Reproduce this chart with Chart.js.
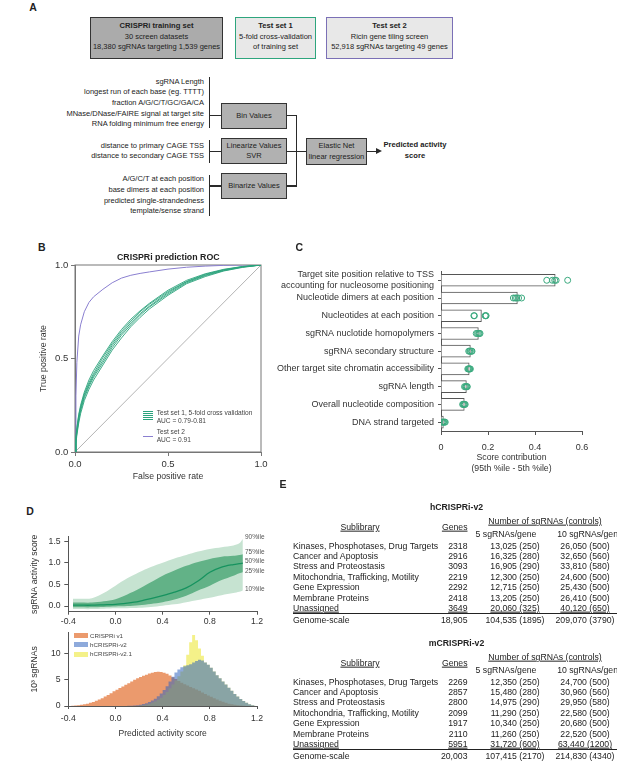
<!DOCTYPE html>
<html>
<head>
<meta charset="utf-8">
<script src="https://cdn.jsdelivr.net/npm/chart.js@4.4.1/dist/chart.umd.min.js"></script>
<style>
  body { margin: 0; background: #fff; }
  #fig { position: relative; width: 617px; height: 762px; overflow: hidden;
         font-family: 'Liberation Sans', Arial, sans-serif; color: #222; }
  #fig canvas { position: absolute; }
</style>
</head>
<body>
<div id="fig">
  <canvas id="chartB" width="245" height="230" style="left:28px;top:255px"></canvas>
  <canvas id="chartC" width="330" height="215" style="left:272px;top:262px"></canvas>
  <canvas id="chartD1" width="260" height="102" style="left:22px;top:528px"></canvas>
  <canvas id="chartD2" width="260" height="116" style="left:22px;top:624px"></canvas>
</div>
<script>
// ==========================================
// Datos del panel B - curvas ROC
// ==========================================
const rocFpr   = [0, 0.005, 0.01, 0.02, 0.03, 0.05, 0.075, 0.1, 0.15, 0.2, 0.25, 0.3, 0.35, 0.4, 0.5, 0.6, 0.7, 0.8, 0.9, 1];
const fold1Tpr = [0, 0.08, 0.13, 0.20, 0.25, 0.32, 0.385, 0.435, 0.515, 0.59, 0.655, 0.71, 0.755, 0.795, 0.865, 0.918, 0.953, 0.977, 0.992, 1];
const fold2Tpr = [0, 0.06, 0.11, 0.18, 0.23, 0.30, 0.36, 0.41, 0.49, 0.57, 0.635, 0.69, 0.74, 0.78, 0.852, 0.91, 0.946, 0.973, 0.99, 1];
const fold3Tpr = [0, 0.045, 0.09, 0.155, 0.205, 0.275, 0.335, 0.385, 0.465, 0.545, 0.61, 0.67, 0.72, 0.765, 0.838, 0.9, 0.938, 0.968, 0.987, 1];
const fold4Tpr = [0, 0.07, 0.125, 0.195, 0.24, 0.31, 0.37, 0.42, 0.505, 0.58, 0.645, 0.70, 0.75, 0.79, 0.858, 0.912, 0.95, 0.975, 0.991, 1];
const fold5Tpr = [0, 0.055, 0.10, 0.17, 0.22, 0.29, 0.35, 0.40, 0.478, 0.558, 0.625, 0.68, 0.732, 0.775, 0.845, 0.905, 0.943, 0.97, 0.989, 1];
const set2Tpr  = [0, 0.30, 0.48, 0.62, 0.68, 0.75, 0.80, 0.83, 0.87, 0.905, 0.93, 0.945, 0.955, 0.963, 0.978, 0.988, 0.994, 0.998, 1, 1];

// Datos del panel C - contribución de cada grupo de variables
const featureLabels = [
  ['Target site position relative to TSS', 'accounting for nucleosome positioning'],
  'Nucleotide dimers at each position',
  'Nucleotides at each position',
  'sgRNA nuclotide homopolymers',
  'sgRNA secondary structure',
  'Other target site chromatin accessibility',
  'sgRNA length',
  'Overall nucleotide composition',
  'DNA strand targeted'
];
const contribution = [0.486, 0.325, 0.172, 0.159, 0.125, 0.12, 0.108, 0.099, 0.01];
const foldContrib = [
  [0.45, 0.474, 0.484, 0.49, 0.539],
  [0.308, 0.316, 0.322, 0.33, 0.343],
  [0.14, 0.142, 0.188, 0.19, 0.192],
  [0.15, 0.155, 0.16, 0.163, 0.166],
  [0.118, 0.122, 0.125, 0.13, 0.132],
  [0.114, 0.117, 0.12, 0.122, 0.125],
  [0.1, 0.104, 0.107, 0.11, 0.112],
  [0.092, 0.095, 0.098, 0.1, 0.103],
  [0.004, 0.008, 0.011, 0.015, 0.018]
];

// Datos del panel D (arriba) - percentiles de actividad
const scoreX = [-0.36, -0.3, -0.2, -0.1, 0.0, 0.1, 0.2, 0.3, 0.4, 0.5, 0.6, 0.7, 0.8, 0.9, 1.0, 1.05, 1.08];
const pct90  = [0.17, 0.17, 0.18, 0.30, 0.47, 0.64, 0.78, 0.90, 1.00, 1.10, 1.18, 1.26, 1.32, 1.36, 1.40, 1.45, 1.55];
const pct75  = [0.08, 0.08, 0.08, 0.11, 0.16, 0.27, 0.40, 0.55, 0.70, 0.82, 0.93, 1.02, 1.09, 1.14, 1.16, 1.18, 1.20];
const pct50  = [0.02, 0.02, 0.02, 0.03, 0.04, 0.07, 0.11, 0.17, 0.24, 0.32, 0.42, 0.58, 0.78, 0.90, 0.96, 0.98, 0.99];
const pct25  = [-0.03, -0.03, -0.03, -0.02, -0.01, 0.0, 0.02, 0.05, 0.09, 0.15, 0.24, 0.36, 0.47, 0.60, 0.70, 0.76, 0.78];
const pct10  = [-0.07, -0.07, -0.07, -0.06, -0.05, -0.05, -0.04, -0.02, 0.01, 0.04, 0.09, 0.14, 0.19, 0.25, 0.30, 0.33, 0.36];
const pctNames = ['90%ile', '75%ile', '50%ile', '25%ile', '10%ile'];

// Datos del panel D (abajo) - histogramas (miles de sgRNAs por bin de 0.025)
const histX = [-0.3875, -0.3625, -0.3375, -0.3125, -0.2875, -0.2625, -0.2375, -0.2125, -0.1875, -0.1625,
  -0.1375, -0.1125, -0.0875, -0.0625, -0.0375, -0.0125, 0.0125, 0.0375, 0.0625, 0.0875,
  0.1125, 0.1375, 0.1625, 0.1875, 0.2125, 0.2375, 0.2625, 0.2875, 0.3125, 0.3375,
  0.3625, 0.3875, 0.4125, 0.4375, 0.4625, 0.4875, 0.5125, 0.5375, 0.5625, 0.5875,
  0.6125, 0.6375, 0.6625, 0.6875, 0.7125, 0.7375, 0.7625, 0.7875, 0.8125, 0.8375,
  0.8625, 0.8875, 0.9125, 0.9375, 0.9625, 0.9875, 1.0125, 1.0375, 1.0625, 1.0875,
  1.1125, 1.1375, 1.1625, 1.1875];
const v1Counts = [0.02, 0.05, 0.09, 0.15, 0.22, 0.32, 0.45, 0.6, 0.78, 1.0,
  1.25, 1.5, 1.8, 2.1, 2.45, 2.8, 3.1, 3.45, 3.75, 4.05,
  4.35, 4.7, 5.0, 5.3, 5.55, 5.8, 6.0, 6.2, 6.35, 6.5,
  6.55, 6.5, 6.35, 6.15, 5.85, 5.5, 5.15, 4.8, 4.45, 4.15,
  3.9, 3.65, 3.4, 3.15, 2.9, 2.6, 2.3, 2.0, 1.75, 1.5,
  1.25, 1.0, 0.8, 0.6, 0.45, 0.32, 0.22, 0.14, 0.08, 0.04,
  0.02, 0, 0, 0];
const v2Counts = [0, 0, 0, 0, 0, 0, 0, 0, 0, 0,
  0, 0, 0, 0, 0, 0, 0, 0, 0, 0,
  0.03, 0.06, 0.1, 0.16, 0.25, 0.38, 0.55, 0.78, 1.05, 1.4,
  1.85, 2.4, 3.05, 3.8, 4.7, 5.6, 6.4, 7.0, 7.4, 7.6,
  7.8, 8.0, 8.3, 8.6, 8.85, 8.7, 8.3, 7.9, 7.3, 6.6,
  5.9, 5.3, 4.7, 4.1, 3.5, 2.9, 2.3, 1.8, 1.35, 0.95,
  0.6, 0.32, 0.12, 0.03];
const v21Counts = [0, 0, 0, 0, 0, 0, 0, 0, 0, 0,
  0, 0, 0, 0, 0, 0, 0, 0, 0, 0,
  0, 0, 0, 0, 0.1, 0.15, 0.25, 0.4, 0.6, 0.85,
  1.2, 1.6, 2.1, 2.7, 3.4, 4.1, 4.9, 5.7, 6.6, 7.8,
  9.8, 12.2, 13.6, 12.6, 11.0, 9.6, 8.3, 7.9, 7.3, 6.6,
  5.9, 5.3, 4.7, 4.1, 3.5, 2.9, 2.3, 1.8, 1.35, 0.95,
  0.6, 0.32, 0.12, 0.03];
const histNames = ['CRISPRi v1', 'hCRISPRi-v2', 'hCRISPRi-v2.1'];

// Datos del panel E - tablas de sublibrerías
const sublibraries = ['Kinases, Phosphotases, Drug Targets', 'Cancer and Apoptosis', 'Stress and Proteostasis',
  'Mitochondria, Trafficking, Motility', 'Gene Expression', 'Membrane Proteins', 'Unassigned'];
const hGenes = [2318, 2916, 3093, 2219, 2292, 2418, 3649];
const h5 = ['13,025 (250)', '16,325 (280)', '16,905 (290)', '12,300 (250)', '12,715 (250)', '13,205 (250)', '20,060 (325)'];
const h10 = ['26,050 (500)', '32,650 (560)', '33,810 (580)', '24,600 (500)', '25,430 (500)', '26,410 (500)', '40,120 (650)'];
const hTotal = ['18,905', '104,535 (1895)', '209,070 (3790)'];
const mGenes = [2269, 2857, 2800, 2099, 1917, 2110, 5951];
const m5 = ['12,350 (250)', '15,480 (280)', '14,975 (290)', '11,290 (250)', '10,340 (250)', '11,260 (250)', '31,720 (600)'];
const m10 = ['24,700 (500)', '30,960 (560)', '29,950 (580)', '22,580 (500)', '20,680 (500)', '22,520 (500)', '63,440 (1200)'];
const mTotal = ['20,003', '107,415 (2170)', '214,830 (4340)'];

// ==========================================
// Utilidades de maquetación (texto y cajas HTML)
// ==========================================
const fig = document.getElementById('fig');

function mk(css, content) {
  const e = document.createElement('div');
  e.style.cssText = css;
  if (content != null) e.textContent = content;
  fig.appendChild(e);
  return e;
}
// texto centrado verticalmente en y; align: l / c / r
function text(s, x, y, size, align, extra) {
  const tx = align === 'c' ? '-50%' : align === 'r' ? '-100%' : '0';
  return mk(`position:absolute;left:${x}px;top:${y}px;font-size:${size}px;line-height:1;white-space:nowrap;` +
    `transform:translate(${tx},-50%);${extra || ''}`, s);
}
function rect(x, y, w, h, css) {
  return mk(`position:absolute;left:${x}px;top:${y}px;width:${w}px;height:${h}px;box-sizing:border-box;${css}`);
}
const BOLD = 'font-weight:bold';
const LINE = 'background:#2a2a2a';

// --- PANEL A: diagrama ---
text('A', 33, 7, 10.5, 'c', BOLD);
rect(90, 17, 133, 42, 'background:#ababab;border:1.5px solid #333');
text('CRISPRi training set', 156.5, 26, 7.6, 'c', BOLD);
text('30 screen datasets', 156.5, 36.7, 7.5, 'c');
text('18,380 sgRNAs targeting 1,539 genes', 156.5, 47.3, 7.5, 'c');
rect(235, 17, 81, 42, 'background:#e8e8e8;border:1.5px solid #2ea57d');
text('Test set 1', 275.5, 26, 7.6, 'c', BOLD);
text('5-fold cross-validation', 275.5, 36.7, 7.5, 'c');
text('of training set', 275.5, 47.3, 7.5, 'c');
rect(326, 17, 127, 42, 'background:#e8e8e8;border:1.5px solid #7b70b6');
text('Test set 2', 389.5, 26, 7.6, 'c', BOLD);
text('Ricin gene tiling screen', 389.5, 36.7, 7.5, 'c');
text('52,918 sgRNAs targeting 49 genes', 389.5, 47.3, 7.5, 'c');

const featGroups = [
  { lines: ['sgRNA Length', 'longest run of each base (eg. TTTT)', 'fraction A/G/C/T/GC/GA/CA',
            'MNase/DNase/FAIRE signal at target site', 'RNA folding minimum free energy'], y0: 81.7, top: 76.5, bottom: 128, link: 114.5 },
  { lines: ['distance to primary CAGE TSS', 'distance to secondary CAGE TSS'], y0: 145.7, top: 140, bottom: 163, link: 150.5 },
  { lines: ['A/G/C/T at each position', 'base dimers at each position', 'predicted single-strandedness',
            'template/sense strand'], y0: 179.2, top: 175, bottom: 215.5, link: 185 }
];
featGroups.forEach(g => {
  g.lines.forEach((s, i) => text(s, 204, g.y0 + i * 10.65, 7.5, 'r'));
  rect(208.5, g.top, 1.5, g.bottom - g.top, LINE);
  rect(210, g.link, 11, 1.5, LINE);
});
rect(221, 102.5, 66, 26, 'background:#b1b1b1;border:1.5px solid #333');
text('Bin Values', 254, 115.5, 7.5, 'c');
rect(221, 137.5, 66, 26.5, 'background:#b1b1b1;border:1.5px solid #333');
text('Linearize Values', 254, 145.5, 7.5, 'c');
text('SVR', 254, 156.3, 7.5, 'c');
rect(221, 172.5, 66, 26, 'background:#b1b1b1;border:1.5px solid #333');
text('Binarize Values', 254, 185.5, 7.5, 'c');
rect(306, 138, 61, 26.5, 'background:#b1b1b1;border:1.5px solid #333');
text('Elastic Net', 336.5, 146, 7.5, 'c');
text('linear regression', 336.5, 156.5, 7.5, 'c');
rect(287, 114.5, 9.5, 1.5, LINE);
rect(295.5, 114.5, 1.5, 72, LINE);
rect(287, 185, 9.5, 1.5, LINE);
rect(287, 150.5, 19, 1.5, LINE);
rect(367, 150.5, 10, 1.5, LINE);
mk('position:absolute;left:376px;top:148.25px;width:0;height:0;border-left:6px solid #2a2a2a;border-top:3px solid transparent;border-bottom:3px solid transparent');
text('Predicted activity', 415, 145, 7.6, 'c', BOLD);
text('score', 415, 156, 7.6, 'c', BOLD);

// --- letras y títulos ---
text('B', 41.7, 246.7, 10.5, 'c', BOLD);
text('CRISPRi prediction ROC', 168.3, 256.7, 8.8, 'c', BOLD);
text('C', 299.3, 246.7, 10.5, 'c', BOLD);
text('D', 30, 511, 10.5, 'c', BOLD);
text('E', 283, 484, 10.5, 'c', BOLD);

// --- leyenda panel B ---
for (let k = 0; k < 5; k++) rect(143, 410.5 + k * 2.2, 10, 1, 'background:#2aa37c');
text('Test set 1, 5-fold cross validation', 156.7, 412.7, 6.6, 'l', 'color:#444');
text('AUC = 0.79-0.81', 156.7, 420.7, 6.6, 'l', 'color:#444');
rect(143, 436.2, 10, 1, 'background:#8a7fd0');
text('Test set 2', 156.7, 432.3, 6.6, 'l', 'color:#444');
text('AUC = 0.91', 156.7, 440, 6.6, 'l', 'color:#444');

// --- etiquetas de percentiles panel D ---
[536.7, 551.7, 561.3, 570.7, 589].forEach((y, i) => text(pctNames[i], 245, y, 6.5, 'l', 'color:#555'));

// --- leyenda histograma panel D ---
const histSwatch = ['rgb(235,154,109)', 'rgb(142,170,219)', 'rgb(244,241,137)'];
[635.7, 644.9, 654.3].forEach((y, i) => {
  rect(74, y - 2.5, 14, 5, 'background:' + histSwatch[i]);
  text(histNames[i], 90, y, 6.2, 'l', 'color:#444');
});

// --- PANEL E: tablas ---
function table(title, y0, genes, n5, n10, totals) {
  const fs = 8.7;
  text(title, 456.5, y0, fs, 'c', BOLD);
  text('Number of sgRNAs (controls)', 545, y0 + 14, fs, 'c', 'text-decoration:underline');
  text('Sublibrary', 360, y0 + 20, fs, 'c', 'text-decoration:underline');
  text('Genes', 467.5, y0 + 20, fs, 'r', 'text-decoration:underline');
  text('5 sgRNAs/gene', 506, y0 + 26.5, fs, 'c');
  text('10 sgRNAs/gene', 590, y0 + 26.5, fs, 'c');
  sublibraries.forEach((name, i) => {
    const y = y0 + 38.5 + i * 10.4;
    const u = i === sublibraries.length - 1 ? 'text-decoration:underline' : '';
    text(name, 293, y, fs, 'l', u);
    text(String(genes[i]), 467.5, y, fs, 'r', u);
    text(n5[i], 515, y, fs, 'c', u);
    text(n10[i], 585, y, fs, 'c', u);
  });
  rect(293, y0 + 106, 324, 1.3, 'background:#222');
  const yt = y0 + 113;
  text('Genome-scale', 293, yt, fs, 'l');
  text(totals[0], 467.5, yt, fs, 'r');
  text(totals[1], 515, yt, fs, 'c');
  text(totals[2], 585, yt, fs, 'c');
}
table('hCRISPRi-v2', 507, hGenes, h5, h10, hTotal);
table('mCRISPRi-v2', 643, mGenes, m5, m10, mTotal);

// ==========================================
// GRÁFICOS (CHART.JS)
// ==========================================
Chart.defaults.font.family = "'Liberation Sans', Arial, sans-serif";
Chart.defaults.color = '#333';
Chart.defaults.animation = false;
Chart.defaults.responsive = false;
Chart.defaults.plugins.legend.display = false;
Chart.defaults.plugins.tooltip.enabled = false;

const toPts = (xs, ys) => xs.map((x, i) => ({ x, y: ys[i] }));
const fixW = w => s => { s.width = w; };
const fixH = h => s => { s.height = h; };
const CLEAR = 'rgba(0,0,0,0)';

// marco completo del panel B
const boxFrame = {
  id: 'boxFrame',
  beforeDatasetsDraw(chart) {
    const { ctx, chartArea: a } = chart;
    ctx.save();
    ctx.strokeStyle = '#777';
    ctx.lineWidth = 1;
    ctx.strokeRect(a.left, a.top, a.right - a.left, a.bottom - a.top);
    ctx.restore();
  }
};

// --- B: ROC ---
const foldSets = [fold1Tpr, fold2Tpr, fold3Tpr, fold4Tpr, fold5Tpr];
new Chart(document.getElementById('chartB'), {
  type: 'line',
  data: {
    datasets: [
      ...foldSets.map(t => ({ data: toPts(rocFpr, t), borderColor: '#2aa37c', borderWidth: 0.9, pointRadius: 0 })),
      { data: toPts(rocFpr, set2Tpr), borderColor: '#8a7fd0', borderWidth: 1, pointRadius: 0 },
      { data: [{ x: 0, y: 0 }, { x: 1, y: 1 }], borderColor: '#b4b4b4', borderWidth: 1, pointRadius: 0 }
    ]
  },
  options: {
    layout: { padding: { top: 10, right: 12, left: 0, bottom: 0 } },
    scales: {
      x: {
        type: 'linear', min: 0, max: 1, afterFit: fixH(33),
        ticks: { stepSize: 0.5, callback: v => v.toFixed(1), font: { size: 9.5 }, color: '#333', padding: 2.4 },
        grid: { drawOnChartArea: false, tickLength: 4, color: '#777' }, border: { color: '#777' },
        title: { display: true, text: 'False positive rate', font: { size: 8.7 }, color: '#333', padding: { top: 0, bottom: 3.1 } }
      },
      y: {
        type: 'linear', min: 0, max: 1, afterFit: fixW(47),
        ticks: { stepSize: 0.5, callback: v => v.toFixed(1), font: { size: 9.5 }, color: '#333', padding: 2.7 },
        grid: { drawOnChartArea: false, tickLength: 4, color: '#777' }, border: { color: '#777' },
        title: { display: true, text: 'True positive rate', font: { size: 8.7 }, color: '#333', padding: { top: 10.1, bottom: 0 } }
      }
    }
  },
  plugins: [boxFrame]
});

// --- C: contribución (barras + puntos por fold, sobre el mismo eje de filas) ---
const rowIdx = featureLabels.map((_, i) => i);
const barPts = contribution.map((v, i) => ({ x: v, y: rowIdx[i] }));
const foldPts = foldContrib.flatMap((vals, i) => vals.map(v => ({ x: v, y: rowIdx[i] })));
new Chart(document.getElementById('chartC'), {
  type: 'bar',
  data: {
    datasets: [
      { type: 'scatter', data: foldPts, borderColor: '#3aa97e', backgroundColor: CLEAR,
        pointRadius: 3, borderWidth: 1, order: 0 },
      { type: 'bar', data: barPts, backgroundColor: '#fff', borderColor: '#555', borderWidth: 1,
        barThickness: 12, order: 1 }
    ]
  },
  options: {
    indexAxis: 'y',
    layout: { padding: { top: 9, right: 20, left: 0, bottom: 0 } },
    scales: {
      x: {
        type: 'linear', min: 0, max: 0.6, offset: false, afterFit: fixH(46),
        ticks: { stepSize: 0.2, callback: v => v === 0 ? '0' : v.toFixed(1), font: { size: 9 }, color: '#333', padding: 7 },
        grid: { drawOnChartArea: false, tickLength: 4, color: '#555' }, border: { color: '#555' },
        title: { display: true, text: ['Score contribution', '(95th %ile - 5th %ile)'], font: { size: 8.7 }, color: '#333',
                 padding: { top: 0, bottom: 3.3 } }
      },
      y: {
        type: 'linear', min: -0.5, max: 8.5, reverse: true, offset: false, afterFit: fixW(169),
        afterBuildTicks: s => { s.ticks = rowIdx.map(v => ({ value: v })); },
        ticks: { autoSkip: false, callback: v => featureLabels[v], font: { size: 9 }, color: '#333', padding: 4 },
        grid: { offset: false, drawOnChartArea: false, tickLength: 3, color: '#555' }, border: { color: '#555' }
      }
    }
  }
});

// --- D arriba: bandas de percentiles ---
new Chart(document.getElementById('chartD1'), {
  type: 'line',
  data: {
    datasets: [
      { data: toPts(scoreX, pct10), borderColor: CLEAR, pointRadius: 0, fill: false, tension: 0.3, order: 5 },
      { data: toPts(scoreX, pct90), borderColor: CLEAR, pointRadius: 0, fill: 0, backgroundColor: '#c6e3d1', tension: 0.3, order: 5 },
      { data: toPts(scoreX, pct25), borderColor: CLEAR, pointRadius: 0, fill: false, tension: 0.3, order: 3 },
      { data: toPts(scoreX, pct75), borderColor: CLEAR, pointRadius: 0, fill: 2, backgroundColor: '#62b287', tension: 0.3, order: 3 },
      { data: toPts(scoreX, pct50), borderColor: '#16935f', borderWidth: 1.3, pointRadius: 0, fill: false, tension: 0.3, order: 0 }
    ]
  },
  options: {
    layout: { padding: { top: 5.8, right: 25, left: 0, bottom: 0 } },
    scales: {
      x: {
        type: 'linear', min: -0.4, max: 1.2, afterFit: fixH(18.3),
        ticks: { stepSize: 0.4, callback: v => v.toFixed(1), font: { size: 8.7 }, color: '#333', padding: 2.1 },
        grid: { drawOnChartArea: false, tickLength: 3, color: '#555' }, border: { color: '#555' }
      },
      y: {
        type: 'linear', min: -0.13, max: 1.6, afterFit: fixW(46.3),
        afterBuildTicks: s => { s.ticks = [0, 0.5, 1, 1.5].map(v => ({ value: v })); },
        ticks: { callback: v => v.toFixed(1), font: { size: 8.7 }, color: '#333', padding: 3.6 },
        grid: { drawOnChartArea: false, tickLength: 4, color: '#555' }, border: { color: '#555' },
        title: { display: true, text: 'sgRNA activity score', font: { size: 8.6 }, color: '#333', padding: { top: 7.8, bottom: 0 } }
      }
    }
  }
});

// --- D abajo: histogramas ---
new Chart(document.getElementById('chartD2'), {
  type: 'line',
  data: {
    datasets: [
      { label: histNames[0], data: toPts(histX, v1Counts), stepped: 'middle', fill: 'origin',
        backgroundColor: 'rgba(228,120,60,0.75)', borderColor: CLEAR, pointRadius: 0, order: 3 },
      { label: histNames[2], data: toPts(histX, v21Counts), stepped: 'middle', fill: 'origin',
        backgroundColor: 'rgba(235,230,40,0.55)', borderColor: CLEAR, pointRadius: 0, order: 2 },
      { label: histNames[1], data: toPts(histX, v2Counts), stepped: 'middle', fill: 'origin',
        backgroundColor: 'rgba(50,100,190,0.55)', borderColor: CLEAR, pointRadius: 0, order: 1 }
    ]
  },
  options: {
    layout: { padding: { top: 6, right: 25, left: 0, bottom: 0 } },
    scales: {
      x: {
        type: 'linear', min: -0.4, max: 1.2, afterFit: fixH(34),
        ticks: { stepSize: 0.4, callback: v => v.toFixed(1), font: { size: 8.7 }, color: '#333', padding: 4.4 },
        grid: { drawOnChartArea: false, tickLength: 3, color: '#555' }, border: { color: '#555' },
        title: { display: true, text: 'Predicted activity score', font: { size: 8.6 }, color: '#333', padding: { top: 0, bottom: 1.5 } }
      },
      y: {
        type: 'linear', min: 0, max: 14, afterFit: fixW(46.3),
        afterBuildTicks: s => { s.ticks = [0, 5, 10].map(v => ({ value: v })); },
        ticks: { font: { size: 8.7 }, color: '#333', padding: 3.6 },
        grid: { drawOnChartArea: false, tickLength: 4, color: '#555' }, border: { color: '#555' },
        title: { display: true, text: '10³ sgRNAs', font: { size: 8.6 }, color: '#333', padding: { top: 7.8, bottom: 0 } }
      }
    }
  }
});
</script>
</body>
</html>
